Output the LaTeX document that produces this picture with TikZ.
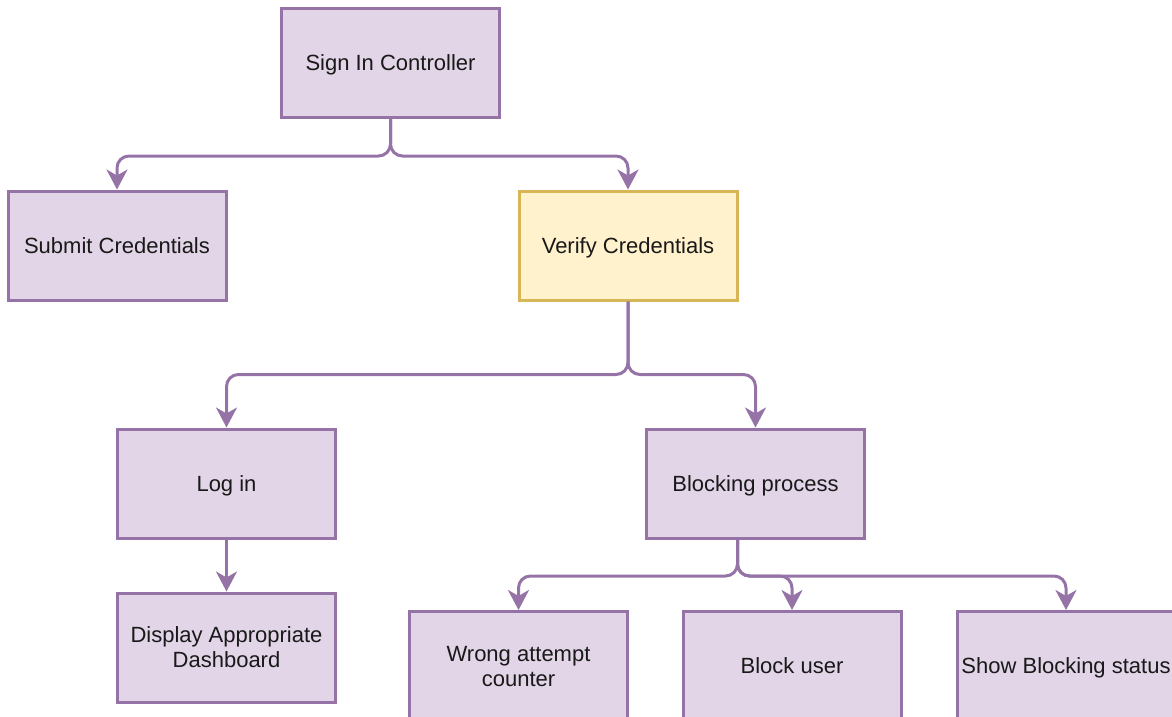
\documentclass[tikz,border=0pt]{standalone}
\usepackage{fontspec}
\setmainfont{Liberation Sans}
\usetikzlibrary{arrows.meta}
\definecolor{lilacfill}{HTML}{E1D5E7}
\definecolor{lilacline}{HTML}{9673A6}
\definecolor{sandfill}{HTML}{FFF2CC}
\definecolor{sandline}{HTML}{D6B656}
\tikzset{
  task/.style={draw=lilacline, fill=lilacfill, line width=3pt, minimum width=218pt,
    minimum height=109pt, inner sep=0pt, align=center, text=black!90,
    text depth=0pt, font=\fontsize{22}{25}\selectfont},
  check/.style={task, draw=sandline, fill=sandfill},
  flow/.style={draw=lilacline, line width=3pt, rounded corners=12pt,
    -{Stealth[length=20pt, width=21pt, inset=6pt]}}
}
\begin{document}
\begin{tikzpicture}[x=1pt, y=-1pt]
\clip (0,0) rectangle (1172,717);
\useasboundingbox (0,0) rectangle (1172,717);

% Top level
\node[task] (ctrl) at (390.5, 63) {Sign In Controller};

% Second level
\node[task] (submit) at (117, 245.5) {Submit Credentials};
\node[check] (verify) at (628, 245.5) {Verify Credentials};

% Third level
\node[task] (login) at (226.5, 483.5) {Log in};
\node[task] (bproc) at (755.5, 483.5) {Blocking process};

% Fourth level
\node[task] (dash) at (226.5, 647.5) {Display Appropriate\\Dashboard};
\node[task] (wrong) at (518.5, 666) {Wrong attempt\\counter};
\node[task] (buser) at (792, 666) {Block user};
\node[task] (bstatus) at (1066, 666) {Show Blocking status};

% Connectors
\draw[flow] (ctrl.south) -- ++(0,37) -| (submit.north);
\draw[flow] (ctrl.south) -- ++(0,37) -| (verify.north);
\draw[flow] (verify.south) -- ++(0,73) -| (login.north);
\draw[flow] (verify.south) -- ++(0,73) -| (bproc.north);
\draw[flow] (login.south) -- (dash.north);
\coordinate (bsplit) at ([xshift=-18pt]bproc.south);
\draw[flow] (bsplit) -- ++(0,36.5) -| (wrong.north);
\draw[flow] (bsplit) -- ++(0,36.5) -| (buser.north);
\draw[flow] (bsplit) -- ++(0,36.5) -| (bstatus.north);

\end{tikzpicture}
\end{document}
